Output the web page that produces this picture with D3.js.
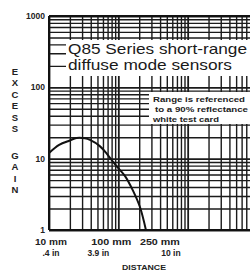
<!DOCTYPE html>
<html>
<head>
<meta charset="utf-8">
<script src="https://cdn.jsdelivr.net/npm/d3@7"></script>
<style>
  body { margin: 0; background: #fff; }
  svg { display: block; font-family: "Liberation Sans", Arial, sans-serif; }
  .grid line { stroke: #1b1b1b; }
  .grid path { display: none; }
</style>
</head>
<body>
<div id="chart"></div>
<script>
// distance (mm) vs excess gain
const distanceMm = [10, 14, 20, 25, 33, 39, 54, 68, 84, 102, 125, 162, 205, 250];
const excessGain = [12, 15.6, 18, 19.5, 19.3, 18.3, 15, 11.8, 9, 7.2, 5.7, 3.6, 2.1, 1];

const yTicks = [1, 10, 100, 1000];
const yTickLabels = ["1", "10", "100", "1000"];
const xTicks = [10, 100, 250];
const xTickMm = ["10 mm", "100 mm", "250 mm"];
const xTickIn = [".4 in", "3.9 in", "10 in"];

const titleLines = ["Q85 Series short-range", "diffuse mode sensors"];
const noteLines = ["Range is referenced", "to a 90% reflectance", "white test card"];

// build log grid values: 1..9 in each decade
function logGrid(lo, hi) {
    let out = [];
    for (let d = lo; d < hi; d *= 10) {
        for (let k = 1; k < 10; k++) out.push(d * k);
    }
    out.push(hi);
    return out;
}

let W = 250, H = 272;
let svg = d3.select("#chart").append("svg")
    .attr("width", W)
    .attr("height", H);

let x = d3.scaleLog().domain([10, 10000]).range([49, 257]);
let y = d3.scaleLog().domain([1, 1000]).range([230, 16]);

let isDecade = d => Math.abs(Math.log10(d) % 1) < 1e-6;

// vertical grid
svg.append("g")
    .attr("class", "grid")
    .attr("transform", "translate(0,230)")
    .call(d3.axisBottom(x).tickValues(logGrid(10, 10000)).tickSize(-214).tickFormat(""))
    .selectAll("line")
    .attr("stroke-width", d => isDecade(d) ? 1.8 : 1.4);

// horizontal grid
svg.append("g")
    .attr("class", "grid")
    .attr("transform", "translate(49,0)")
    .call(d3.axisLeft(y).tickValues(logGrid(1, 1000)).tickSize(-220).tickFormat(""))
    .selectAll("line")
    .attr("stroke-width", d => isDecade(d) ? 1.8 : 1.4);

// frame left / bottom / top
svg.append("line").attr("x1", x(10)).attr("x2", x(10)).attr("y1", y(1000)).attr("y2", y(1))
    .attr("stroke", "#111").attr("stroke-width", 2);
svg.append("line").attr("x1", x(10)).attr("x2", W).attr("y1", y(1)).attr("y2", y(1))
    .attr("stroke", "#111").attr("stroke-width", 2);
svg.append("line").attr("x1", x(10)).attr("x2", W).attr("y1", y(1000)).attr("y2", y(1000))
    .attr("stroke", "#111").attr("stroke-width", 1.8);

// title block masks the grid
svg.append("rect")
    .attr("x", 66).attr("y", 40).attr("width", W - 66).attr("height", 36)
    .attr("fill", "#fff");
svg.selectAll(".title")
    .data(titleLines)
    .enter().append("text")
    .attr("class", "title")
    .attr("x", 68)
    .attr("y", (d, i) => 54 + i * 16)
    .attr("font-size", 14.5)
    .attr("fill", "#1a1a1a")
    .attr("textLength", (d, i) => i === 0 ? 179 : 164)
    .attr("lengthAdjust", "spacingAndGlyphs")
    .text(d => d);

// note box
svg.append("rect")
    .attr("x", 149).attr("y", 92).attr("width", W - 149).attr("height", 32)
    .attr("fill", "#fff");
svg.selectAll(".note")
    .data(noteLines)
    .enter().append("text")
    .attr("class", "note")
    .attr("x", (d, i) => i === 1 ? 155 : 153)
    .attr("y", (d, i) => 102 + i * 10)
    .attr("font-size", 7.2)
    .attr("font-weight", "bold")
    .attr("fill", "#222")
    .attr("textLength", (d, i) => [92, 93, 66][i])
    .attr("lengthAdjust", "spacingAndGlyphs")
    .text(d => d);

// excess gain curve
let line = d3.line()
    .x((d, i) => x(distanceMm[i]))
    .y(d => y(d))
    .curve(d3.curveCatmullRom.alpha(0.5));

svg.append("path")
    .datum(excessGain)
    .attr("d", line)
    .attr("fill", "none")
    .attr("stroke", "#111")
    .attr("stroke-width", 2);

// y tick labels
svg.selectAll(".ylab")
    .data(yTicks)
    .enter().append("text")
    .attr("class", "ylab")
    .attr("x", 45)
    .attr("y", d => y(d) + 3)
    .attr("text-anchor", "end")
    .attr("font-size", 8.5)
    .attr("font-weight", "bold")
    .attr("fill", "#222")
    .text((d, i) => yTickLabels[i]);

// x tick labels (mm and inch rows)
let xLabShift = [2, -7, 14];
svg.selectAll(".xlab")
    .data(xTicks)
    .enter().append("text")
    .attr("class", "xlab")
    .attr("x", (d, i) => x(d) + xLabShift[i])
    .attr("y", 245)
    .attr("text-anchor", "middle")
    .attr("font-size", 8.5)
    .attr("font-weight", "bold")
    .attr("fill", "#222")
    .attr("textLength", (d, i) => [32, 40, 40][i])
    .attr("lengthAdjust", "spacingAndGlyphs")
    .text((d, i) => xTickMm[i]);

let inShift = [0, -13, 11];
svg.selectAll(".xin")
    .data(xTicks)
    .enter().append("text")
    .attr("class", "xin")
    .attr("x", (d, i) => x(d) + xLabShift[i] + inShift[i])
    .attr("y", 256)
    .attr("text-anchor", "middle")
    .attr("font-size", 8.5)
    .attr("font-weight", "bold")
    .attr("fill", "#222")
    .text((d, i) => xTickIn[i]);

// axis titles
svg.append("text")
    .attr("x", 122)
    .attr("y", 270)
    .attr("font-size", 8)
    .attr("font-weight", "bold")
    .attr("fill", "#222")
    .attr("textLength", 44)
    .attr("lengthAdjust", "spacingAndGlyphs")
    .text("DISTANCE");

let yTitle = [["EXCESS", 75], ["GAIN", 159]];
yTitle.forEach(([word, top]) => {
    svg.append("g").selectAll("text")
        .data(word.split(""))
        .enter().append("text")
        .attr("x", 15)
        .attr("y", (d, i) => top + i * 11.4)
        .attr("text-anchor", "middle")
        .attr("font-size", 9.5)
        .attr("font-weight", "bold")
        .attr("fill", "#222")
        .text(d => d);
});
</script>
</body>
</html>
